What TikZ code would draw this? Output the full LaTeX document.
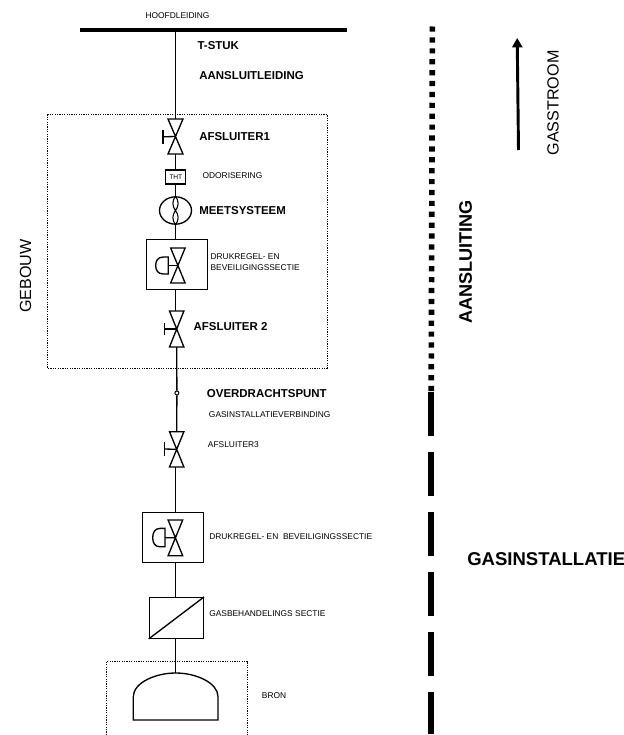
\documentclass[tikz,border=0pt]{standalone}
\usepackage{fontspec}
\setmainfont{Liberation Sans}
\usetikzlibrary{arrows.meta,shapes.geometric}
\newcommand{\valvesym}[5]{% name, cx, top, bottom, halfwidth
  \coordinate (#1top) at (#2,#3);
  \coordinate (#1bot) at (#2,#4);
  \coordinate (#1mid) at (#2,{(#3+#4)/2});
  \draw[pipe] (#2-#5,#3) -- (#2+#5,#3) -- (#2-#5,#4) -- (#2+#5,#4) -- cycle;
}
\newcommand{\handlesym}[4]{% valve, x, y1, y2
  \coordinate (#1hand) at (#2,{(#3+#4)/2});
  \draw[pipe] (#1mid) -- (#1hand);
  \draw[pipe] (#2,#3) -- (#2,#4);
}
\tikzset{
  pipe/.style={line width=1pt, line join=miter},
  zone/.style={line width=0.6pt, dash pattern=on 0.9pt off 0.9pt},
  small/.style={font=\fontsize{6.3pt}{8pt}\selectfont, anchor=west, inner sep=0pt, align=left},
  big/.style={font=\bfseries\fontsize{8.6pt}{10pt}\selectfont, anchor=west, inner sep=0pt},
  unit/.style={draw, pipe, rectangle, inner sep=0pt},
  huge lab/.style={font=\fontsize{12.1pt}{14pt}\selectfont, inner sep=0pt, rotate=90},
  boundary/.style={line width=4.2pt}
}
\begin{document}
\begin{tikzpicture}[x=0.75pt,y=-0.75pt]
\useasboundingbox (0,0) rectangle (624,735);
% zones
\draw[zone] (47.3,114.3) rectangle (327,368);
\draw[zone] (106.7,735) -- (106.7,661) -- (247.3,661) -- (247.3,735);
% main bar
\coordinate (barL) at (80,30);
\coordinate (barR) at (347,30);
\coordinate (tee) at (175.5,30);
\draw[line width=2.7pt] (barL) -- (barR);
% valve 1
\valvesym{vone}{175.5}{119}{154}{7.5}
\handlesym{vone}{163}{130}{143.6}
\draw[pipe] (tee) -- (vonetop);
% THT
\node[unit, minimum width=15pt, minimum height=10.5pt, font=\fontsize{5pt}{6pt}\selectfont] (tht) at (175.8,177) {THT};
\draw[pipe] (vonebot) -- (tht.north -| vonebot);
% meter
\node[draw, pipe, ellipse, minimum width=24pt, minimum height=20.5pt, inner sep=0pt] (meter) at (175.5,210.5) {};
\draw[pipe, line width=0.8pt] (meter.north) .. controls (172,201) and (172,206) .. (175.5,210.5) .. controls (172,215) and (172,220) .. (meter.south)
  .. controls (179,220) and (179,215) .. (175.5,210.5) .. controls (179,206) and (179,201) .. (meter.north);
\draw[pipe] (tht.south -| meter) -- (meter.north);
% regulator 1
\node[unit, minimum width=45.8pt, minimum height=37.5pt] (regone) at (177.2,264.2) {};
\draw[pipe] (meter.south) -- (regone.north -| meter);
\valvesym{vreg}{177.9}{248}{283}{7.2}
\coordinate (dact) at (168.3,265.5);
\draw[pipe] (vregmid) -- (dact);
\draw[pipe] (168.3,257) -- (163.5,257) .. controls (157.5,257) and (155.7,261) .. (155.7,265.5) .. controls (155.7,270) and (157.5,274) .. (163.5,274) -- (168.3,274) -- cycle;
% valve 2
\valvesym{vtwo}{176.7}{311}{347}{7.2}
\handlesym{vtwo}{164.7}{323}{335}
\coordinate (uppipe) at (175.7,0);
\draw[pipe] (regone.south -| uppipe) -- (vtwotop -| uppipe);
% transfer point
\node[draw, circle, fill=white, line width=0.7pt, minimum size=3pt, inner sep=0pt] (pt) at (176.9,393) {};
\draw[pipe] (vtwobot) -- (pt);
% valve 3
\valvesym{vthree}{176.7}{431.7}{467}{7.2}
\handlesym{vthree}{164.7}{442}{456}
\draw[pipe] (pt) -- (vthreetop);
% regulator 2
\node[unit, minimum width=46pt, minimum height=37.5pt] (regtwo) at (173,537.7) {};
\draw[pipe] (vthreebot -| uppipe) -- (regtwo.north -| uppipe);
\valvesym{vregb}{175.4}{520}{555.7}{7.3}
\coordinate (dactb) at (165,537.7);
\draw[pipe] (vregbmid) -- (dactb);
\draw[pipe] (165,528.4) -- (160,528.4) .. controls (154.5,528.4) and (152.7,533) .. (152.7,537.7) .. controls (152.7,542.3) and (154.5,546.8) .. (160,546.8) -- (165,546.8) -- cycle;
% gas treatment
\node[unit, minimum width=40.5pt, minimum height=30.5pt] (treat) at (176.4,617.9) {};
\draw[pipe] (treat.south west) -- (treat.north east);
\draw[pipe] (regtwo.south -| uppipe) -- (treat.north -| uppipe);
% source
\coordinate (domeTop) at (175.7,673);
\draw[pipe] (133.3,720) -- (133.3,696.7) .. controls (133.3,683) and (155,673) .. (domeTop) .. controls (196.5,673) and (218,683) .. (218,696.7) -- (218,720) -- cycle;
\draw[pipe] (treat.south -| domeTop) -- (domeTop);
% boundary
\coordinate (dotsA) at (432.4,26.5);
\coordinate (dotsB) at (431.2,392);
\draw[boundary, dash pattern=on 3.9pt off 4.27pt] (dotsA) -- (dotsB);
\foreach \a/\b in {392/436,452.3/496,512.3/556,572.2/616,632.2/676,692.2/734}{
  \draw[boundary] (431,\a) -- (431,\b);
}
% flow arrow
\coordinate (flowA) at (518.5,150);
\coordinate (flowB) at (517.2,38);
\draw[line width=2.2pt, -{Triangle[length=7pt,width=7.5pt]}] (flowA) -- (flowB);
% labels
\node[small] (hoofd) at (145.3,15.8) {HOOFDLEIDING};
\node[big] (tstuk) at (197.3,46) {T-STUK};
\node[big] (aansl) at (199,76) {AANSLUITLEIDING};
\node[big] (af1) at (199,137) {AFSLUITER1};
\node[small] (odor) at (202.3,176) {ODORISERING};
\node[big] (meets) at (199,211) {MEETSYSTEEM};
\node[small, font=\fontsize{6.3pt}{8.1pt}\selectfont] (druk1) at (210.3,262.5) {DRUKREGEL- EN\\BEVEILIGINGSSECTIE};
\node[big] (af2) at (193.3,327) {AFSLUITER 2};
\node[big] (over) at (206.7,393.7) {OVERDRACHTSPUNT};
\node[small] (gasv) at (208.7,414.7) {GASINSTALLATIEVERBINDING};
\node[small] (af3) at (207.7,445) {AFSLUITER3};
\node[small] (druk2) at (209,537) {DRUKREGEL- EN\ \ BEVEILIGINGSSECTIE};
\node[small] (gasb) at (209,614) {GASBEHANDELINGS SECTIE};
\node[small] (bron) at (261.7,696) {BRON};
\node[huge lab] (gebouw) at (25.5,276) {GEBOUW};
\node[huge lab, font=\bfseries\fontsize{13.6pt}{15pt}\selectfont] (aansluiting) at (465.7,262) {AANSLUITING};
\node[huge lab] (gasstroom) at (553,103) {GASSTROOM};
\node[font=\bfseries\fontsize{13.9pt}{16pt}\selectfont, anchor=west, inner sep=0pt] (gasinst) at (467,559) {GASINSTALLATIE};
\end{tikzpicture}
\end{document}
